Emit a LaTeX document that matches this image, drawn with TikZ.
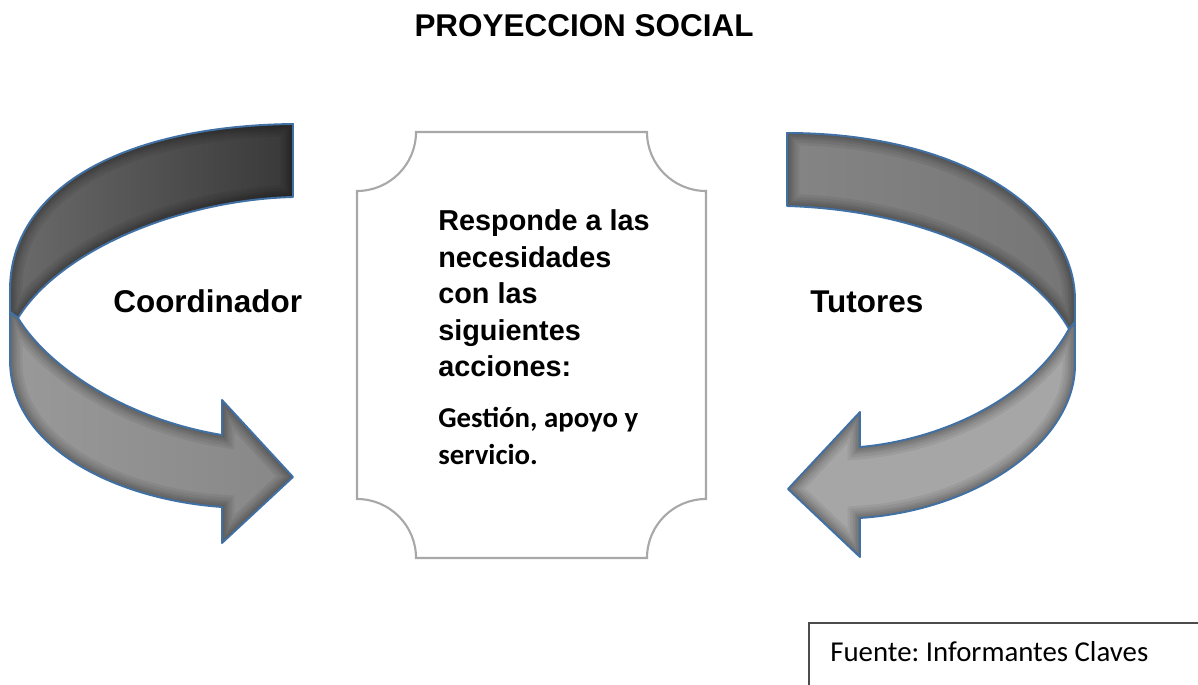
\documentclass[tikz,border=0pt]{standalone}
\usepackage{fontspec}
\usepackage{tikz}
\usetikzlibrary{calc}
\newfontfamily\arialfont{Liberation Sans}
\newfontfamily\calibrifont{Carlito}
\definecolor{arrowblue}{RGB}{65,113,164}
\definecolor{boxgray}{RGB}{168,168,168}
\tikzstyle{band} = [draw=arrowblue, line width=1.1pt, line join=round]
\tikzstyle{softedge} = [draw=black, opacity=0.06]
\tikzstyle{boxline} = [draw=boxgray, line width=1.2pt]
\tikzstyle{sidetext} = [inner sep=0pt, anchor=base west, font=\arialfont\bfseries\fontsize{17.9}{21}\selectfont]
\tikzstyle{boxtext} = [inner sep=0pt, anchor=base west, font=\arialfont\bfseries\fontsize{16.4}{20}\selectfont]
\tikzstyle{acttext} = [inner sep=0pt, anchor=base west, font=\calibrifont\bfseries\fontsize{16.4}{20}\selectfont]
\frenchspacing

% ribbon pieces of the two curved arrows
\def\leftup{(293,124) .. controls (120,126) and (10,190) .. (10,290)
    -- (10,312) -- (18,318) .. controls (60,250) and (180,200) .. (293,197) -- cycle}
\def\leftdown{(18,318) .. controls (50,370) and (130,420) .. (222,435)
    -- (222,400) -- (293,477) -- (222,543) -- (222,507) .. controls (120,500) and (10,450) .. (10,360) -- (10,312) -- cycle}
\def\rightup{(787,133) .. controls (960,133) and (1075,210) .. (1075,300)
    -- (1075,322) -- (1069,329) .. controls (1030,260) and (920,210) .. (787,206) -- cycle}
\def\rightdown{(1069,329) .. controls (1030,400) and (940,440) .. (860,447)
    -- (860,412) -- (788,489) -- (860,557) -- (860,518) .. controls (980,510) and (1075,440) .. (1075,365) -- (1075,322) -- cycle}

\begin{document}
\begin{tikzpicture}[x=0.02cm,y=-0.02cm]
\useasboundingbox (0,0) rectangle (1198,685);

\node[sidetext, anchor=base] (title) at (584,37) {PROYECCION SOCIAL};

\fill[left color=black!58, right color=black!78] \leftup;
\fill[left color=black!40, right color=black!47] \leftdown;
\fill[left color=black!48, right color=black!54] \rightup;
\fill[black!35] \rightdown;

\foreach \p in {\leftup, \leftdown, \rightup, \rightdown} {
    \begin{scope}
    \clip \p;
    \foreach \w in {14,11,8,6,4,2}
        \draw[softedge, line width=\w pt] \p;
    \end{scope}
}
\foreach \p in {\leftup, \leftdown, \rightup, \rightdown}
    \draw[band] \p;

\node[sidetext] (coord) at (113,313) {Coordinador};
\node[sidetext] (tut) at (810,313) {Tutores};

% centre box
\draw[boxline] (416,132) -- (647,132) arc(180:90:59) -- (706,499) arc(270:180:59)
    -- (416,558) arc(0:-90:59) -- (357,191) arc(90:0:59) -- cycle;

\foreach \t [count=\i] in {Responde a las, necesidades, con las, siguientes, acciones:} {
    \node[boxtext] (resp\i) at (438,{231+36.5*(\i-1)}) {\t};
}
\node[acttext] (gest) at (438,428) {Gestión, apoyo y};
\node[acttext] (serv) at (438,465) {servicio.};

% source
\draw[black!70, line width=0.7pt] (1198,623) -- (809,623) -- (809,685);
\node[acttext, font=\calibrifont\fontsize{16.4}{20}\selectfont] (src) at (830,662) {Fuente: Informantes Claves};
\end{tikzpicture}
\end{document}
